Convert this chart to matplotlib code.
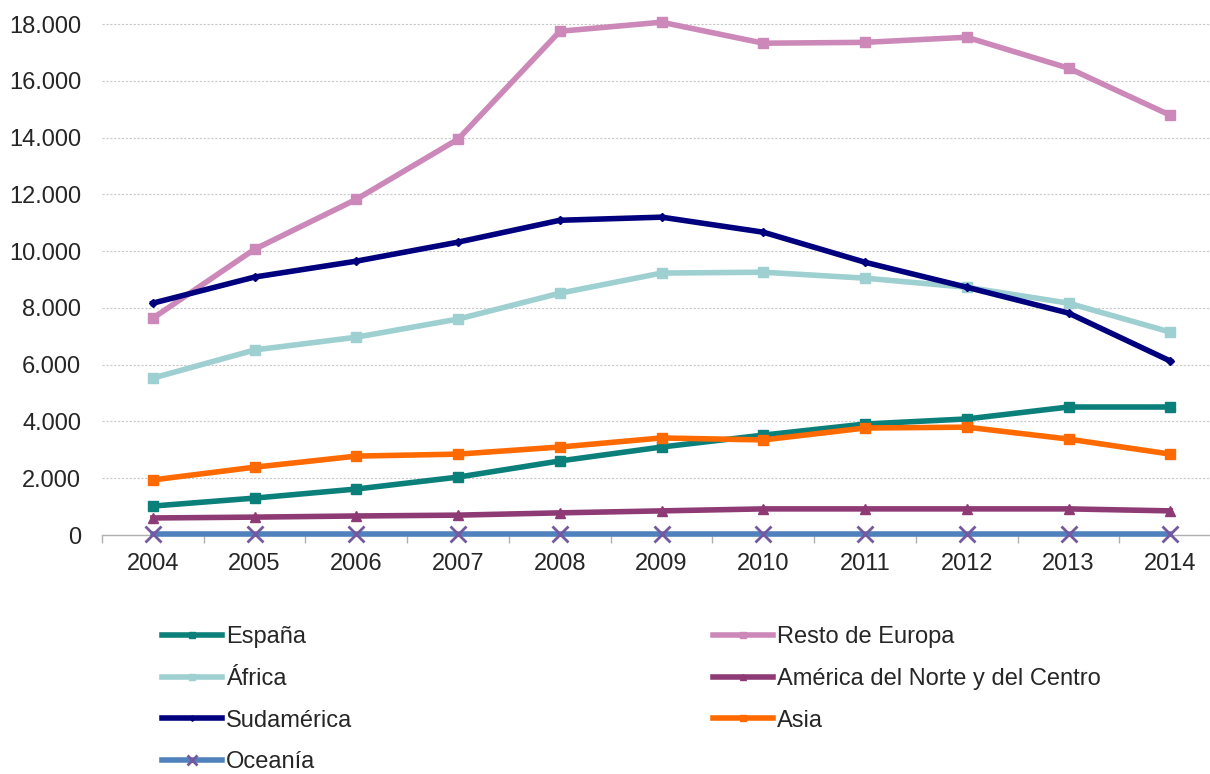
import numpy as np
import matplotlib.pyplot as plt
from matplotlib.ticker import FuncFormatter, MultipleLocator

plt.rcParams["font.family"] = ["Liberation Sans", "DejaVu Sans"]

### Data ###
years = ["2004", "2005", "2006", "2007", "2008", "2009", "2010", "2011", "2012", "2013", "2014"]

espana = [1020, 1300, 1620, 2040, 2610, 3100, 3520, 3910, 4090, 4510, 4510]
resto_europa = [7640, 10070, 11830, 13950, 17750, 18070, 17330, 17360, 17540, 16450, 14790]
africa = [5530, 6520, 6970, 7610, 8520, 9230, 9260, 9050, 8730, 8170, 7150]
america_nc = [600, 630, 670, 700, 780, 850, 920, 920, 920, 920, 850]
sudamerica = [8170, 9090, 9650, 10320, 11090, 11200, 10670, 9610, 8730, 7820, 6130]
asia = [1940, 2390, 2780, 2850, 3100, 3420, 3350, 3770, 3800, 3380, 2850]
oceania = [30, 30, 30, 30, 30, 30, 30, 30, 30, 30, 30]

TEXT_COLOR = "#262626"
LW = 4.0
FS = 17

fig = plt.figure(figsize=(12.10, 7.74), dpi=100)
ax = fig.add_axes([102 / 1210, 239 / 774, 1 - 102 / 1210, 525 / 774])
x = np.arange(len(years))

series = [
    ("España", espana, dict(color="#0b7f7a", marker="s", ms=6.5)),
    ("Resto de Europa", resto_europa, dict(color="#cc88b8", marker="s", ms=6.5)),
    ("África", africa, dict(color="#9ecfd1", marker="s", ms=6.5)),
    ("América del Norte y del Centro", america_nc, dict(color="#8e3a75", marker="^", ms=7)),
    ("Sudamérica", sudamerica, dict(color="#00007f", marker="D", ms=4)),
    ("Asia", asia, dict(color="#ff6a00", marker="s", ms=6.5)),
    ("Oceanía", oceania, dict(color="#4f81bd", marker="x", ms=11, mec="#7559a0", mew=2)),
]

handles = {}
for name, vals, kw in series:
    (h,) = ax.plot(x, vals, lw=LW, clip_on=False, label=name, zorder=3, **kw)
    handles[name] = h

ax.set_xlim(-0.5, 10.39)
ax.set_ylim(0, 18500)
ax.yaxis.set_major_locator(MultipleLocator(2000))
ax.yaxis.set_major_formatter(FuncFormatter(lambda v, p: f"{int(v):,}".replace(",", ".")))
ax.set_xticks(x)
ax.set_xticklabels(years)
ax.set_xticks(np.arange(-0.5, 10.0, 1.0), minor=True)

ax.grid(axis="y", color="#c8c8c8", linestyle=(0, (2, 1.5)), linewidth=0.8)
ax.set_axisbelow(True)
for s in ["top", "right", "left"]:
    ax.spines[s].set_visible(False)
ax.spines["bottom"].set_color("#b0b0b0")
ax.spines["bottom"].set_linewidth(1.0)

ax.tick_params(axis="y", length=0, pad=15, labelsize=FS, labelcolor=TEXT_COLOR)
ax.tick_params(axis="x", which="major", length=0, pad=13, labelsize=FS, labelcolor=TEXT_COLOR)
ax.tick_params(axis="x", which="minor", length=6, color="#b0b0b0", width=1.0)

### Legend (two columns, filled row-wise) ###
col1 = ["España", "África", "Sudamérica", "Oceanía"]
col2 = ["Resto de Europa", "América del Norte y del Centro", "Asia"]
leg_kw = dict(loc="upper left", frameon=False, borderpad=0, borderaxespad=0,
              handlelength=2.55, handletextpad=0.17, labelspacing=0.84,
              markerscale=0.7, fontsize=FS, labelcolor=TEXT_COLOR)
fig.legend([handles[n] for n in col1], col1,
           bbox_to_anchor=(162 / 1210, 1 - 626 / 774), **leg_kw)
fig.legend([handles[n] for n in col2], col2,
           bbox_to_anchor=(713 / 1210, 1 - 626 / 774), **leg_kw)

fig.savefig("out.png", dpi=100)
